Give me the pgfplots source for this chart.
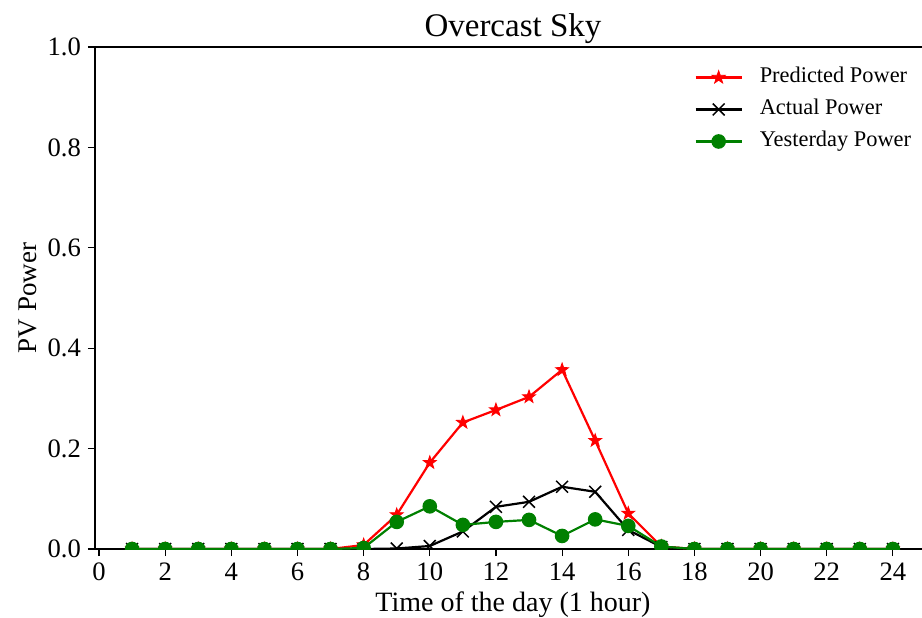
\documentclass[border=0pt]{standalone}
\usepackage{fontspec}
\setmainfont{Liberation Serif}
\usepackage{pgfplots}
\pgfplotsset{compat=1.18}

\definecolor{mplgreen}{RGB}{0,128,0}

% filled five-point star, like matplotlib's '*'
\pgfdeclareplotmark{fstar}{%
  \pgfpathmoveto{\pgfpointpolar{90}{\pgfplotmarksize}}%
  \pgfpathlineto{\pgfpointpolar{126}{0.4\pgfplotmarksize}}%
  \pgfpathlineto{\pgfpointpolar{162}{\pgfplotmarksize}}%
  \pgfpathlineto{\pgfpointpolar{198}{0.4\pgfplotmarksize}}%
  \pgfpathlineto{\pgfpointpolar{234}{\pgfplotmarksize}}%
  \pgfpathlineto{\pgfpointpolar{270}{0.4\pgfplotmarksize}}%
  \pgfpathlineto{\pgfpointpolar{306}{\pgfplotmarksize}}%
  \pgfpathlineto{\pgfpointpolar{342}{0.4\pgfplotmarksize}}%
  \pgfpathlineto{\pgfpointpolar{18}{\pgfplotmarksize}}%
  \pgfpathlineto{\pgfpointpolar{54}{0.4\pgfplotmarksize}}%
  \pgfpathclose
  \pgfusepathqfillstroke
}

\begin{document}
\begin{tikzpicture}
\begin{axis}[
  scale only axis,
  width=413.5pt, height=251pt,
  xmin=-0.121, xmax=24.88,
  ymin=0, ymax=1,
  axis x line*=box, axis y line*=left,
  xtick={0,2,...,24},
  ytick={0,0.2,...,1.0},
  xtick pos=bottom, ytick pos=left,
  tick align=outside,
  major tick length=3.5pt,
  every tick/.style={black, line width=0.6pt},
  axis line style={line width=0.6pt},
  yticklabel style={/pgf/number format/fixed, /pgf/number format/fixed zerofill, /pgf/number format/precision=1},
  /pgf/number format/assume math mode=true,
  ticklabel style={font=\fontsize{13.3}{15}\selectfont},
  clip marker paths=true,
  title={Overcast Sky},
  title style={at={(axis description cs:0.5054,1)}, anchor=base, yshift=-0.5pt, font=\fontsize{16.5}{19}\selectfont},
  xlabel={Time of the day (1 hour)},
  xlabel style={at={(axis description cs:0.5054,-0.1116)}, anchor=center, font=\fontsize{14}{16}\selectfont},
  ylabel={PV Power},
  ylabel style={at={(axis description cs:-0.081,0.5)}, anchor=center, font=\fontsize{13.5}{16}\selectfont},
  legend cell align=left,
  legend image code/.code={\draw[mark repeat=2,mark phase=2,#1] plot coordinates {(0pt,0pt) (11.5pt,0pt) (23pt,0pt)};},
  legend style={at={(axis description cs:0.7245,0.962)}, anchor=north west, draw=none, fill=none,
    inner sep=0pt, row sep=5pt,
    nodes={inner sep=0pt, text height=8pt, text depth=3pt},
    /tikz/every odd column/.append style={column sep=8.5pt},
    font=\fontsize{11.2}{13}\selectfont},
]
\addplot[red, line width=1.1pt, mark=fstar, mark size=3.4pt, mark options={fill=red, line width=0.4pt}] coordinates {
  (1,0) (2,0) (3,0) (4,0) (5,0) (6,0) (7,0) (8,0.008) (9,0.068) (10,0.172) (11,0.252) (12,0.277)
  (13,0.303) (14,0.357) (15,0.216) (16,0.071) (17,0.005) (18,0) (19,0) (20,0) (21,0) (22,0) (23,0) (24,0)
};
\addlegendentry{Predicted Power}
\addplot[black, line width=1.1pt, mark=x, mark size=4.2pt, mark options={line width=0.75pt}] coordinates {
  (1,0) (2,0) (3,0) (4,0) (5,0) (6,0) (7,0) (8,0) (9,0.001) (10,0.006) (11,0.035) (12,0.084)
  (13,0.094) (14,0.124) (15,0.114) (16,0.038) (17,0.004) (18,0) (19,0) (20,0) (21,0) (22,0) (23,0) (24,0)
};
\addlegendentry{Actual Power}
\addplot[mplgreen, line width=1.1pt, mark=*, mark size=3.1pt, mark options={fill=mplgreen, draw=mplgreen}] coordinates {
  (1,0) (2,0) (3,0) (4,0) (5,0) (6,0) (7,0) (8,0.002) (9,0.054) (10,0.085) (11,0.048) (12,0.054)
  (13,0.058) (14,0.026) (15,0.059) (16,0.046) (17,0.005) (18,0) (19,0) (20,0) (21,0) (22,0) (23,0) (24,0)
};
\addlegendentry{Yesterday Power}
\end{axis}
\pgfresetboundingbox
\path ([shift={(-47.5pt,-34pt)}]current axis.south west) rectangle ([shift={(0pt,23.5pt)}]current axis.north east);
\end{tikzpicture}
\end{document}
